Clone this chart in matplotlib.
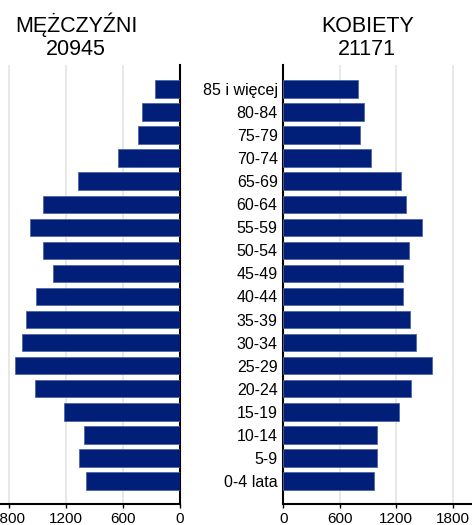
import matplotlib
matplotlib.use("Agg")
import matplotlib.pyplot as plt
import numpy as np

plt.rcParams['font.family'] = ['Liberation Sans', 'DejaVu Sans']

categories = ["85 i więcej", "80-84", "75-79", "70-74", "65-69", "60-64", "55-59",
              "50-54", "45-49", "40-44", "35-39", "30-34", "25-29", "20-24",
              "15-19", "10-14", "5-9", "0-4 lata"]
men = [263, 397, 446, 656, 1071, 1446, 1576, 1446, 1334, 1516, 1618, 1664,
       1737, 1524, 1218, 1008, 1060, 987]
women = [793, 860, 811, 935, 1250, 1303, 1476, 1338, 1271, 1271, 1345, 1412,
         1582, 1353, 1225, 992, 998, 960]
men_total = "20945"
women_total = "21171"
ticks = [0, 600, 1200, 1800]

W, H = 472, 525
fig = plt.figure(figsize=(W / 100, H / 100), dpi=100)

bar_color = '#011e78'
edge_color = '#5065a5'
grid_color = '#e6e6e6'

n = len(categories)
ypos = np.arange(n)[::-1]  # first category at top

top_px, bot_px = 65, 504
axL = fig.add_axes([0 / W, (H - bot_px) / H, 180 / W, (bot_px - top_px) / H])
axR = fig.add_axes([283.3 / W, (H - bot_px) / H, (W - 283.3) / W, (bot_px - top_px) / H])

for ax, vals in ((axL, men), (axR, women)):
    ax.barh(ypos, vals, height=0.76, color=bar_color, edgecolor=edge_color,
            linewidth=0.6, zorder=3)
    ax.set_ylim(-1.0, n + 0.04)
    ax.set_xticks(ticks)
    ax.set_xticklabels([str(t) for t in ticks])
    ax.grid(axis='x', color=grid_color, linewidth=1.3, zorder=0)
    ax.set_axisbelow(True)
    ax.tick_params(axis='x', length=3, width=1, pad=3, labelsize=11, colors='black')
    for s in ax.spines.values():
        s.set_visible(False)
    ax.spines['bottom'].set_visible(True)
    ax.spines['bottom'].set_linewidth(1.5)
    ax.spines['bottom'].set_color('black')

axL.set_xlim(1895, 0)
axL.set_yticks([])
axL.spines['right'].set_visible(True)
axL.spines['right'].set_linewidth(1.5)
axL.spines['right'].set_color('black')

axR.set_xlim(0, 2004)
axR.set_yticks(ypos)
axR.set_yticklabels(categories)
axR.tick_params(axis='y', length=0, pad=4, labelsize=11.5)
axR.spines['left'].set_visible(True)
axR.spines['left'].set_linewidth(1.5)
axR.spines['left'].set_color('black')

title_size = 15.5
fig.text(76 / W, 1 - 32 / H, "MĘŻCZYŹNI", ha='center', va='baseline', fontsize=title_size)
fig.text(76 / W, 1 - 55 / H, men_total, ha='center', va='baseline', fontsize=title_size)
fig.text(368 / W, 1 - 32 / H, "KOBIETY", ha='center', va='baseline', fontsize=title_size)
fig.text(367 / W, 1 - 55 / H, women_total, ha='center', va='baseline', fontsize=title_size)

fig.savefig("out.png", dpi=100)
